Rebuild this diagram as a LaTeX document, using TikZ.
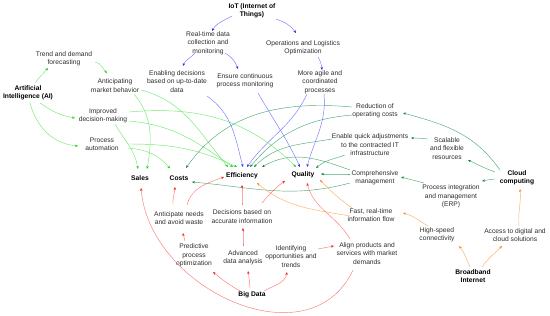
\documentclass[tikz,border=0pt]{standalone}
\usepackage{fontspec}
\setmainfont{Liberation Sans}
\usetikzlibrary{arrows.meta,calc}
\definecolor{txt}{RGB}{45,45,45}
\definecolor{gL}{RGB}{110,235,110}
\definecolor{gA}{RGB}{30,200,30}
\definecolor{bL}{RGB}{120,120,255}
\definecolor{bA}{RGB}{40,40,240}
\definecolor{tL}{RGB}{80,170,120}
\definecolor{tA}{RGB}{20,130,60}
\definecolor{oL}{RGB}{255,175,100}
\definecolor{oA}{RGB}{255,130,30}
\definecolor{rL}{RGB}{255,120,120}
\definecolor{rA}{RGB}{240,30,30}
\tikzset{
  lbl/.style={align=center, inner sep=1pt, text=txt, font=\fontsize{6.7}{8.4}\selectfont},
  keyn/.style={align=center, inner sep=1pt, text=black, font=\fontsize{6.7}{8.4}\selectfont\bfseries},
  conn/.style={line width=0.45pt},
  gc/.style={conn, draw=gL, -{Stealth[length=3pt,width=2.4pt,color=gA]}},
  bc/.style={conn, draw=bL, -{Stealth[length=3pt,width=2.4pt,color=bA]}},
  tc/.style={conn, draw=tL, -{Stealth[length=3pt,width=2.4pt,color=tA]}},
  oc/.style={conn, draw=oL, -{Stealth[length=3pt,width=2.4pt,color=oA]}},
  rc/.style={conn, draw=rL, -{Stealth[length=3pt,width=2.4pt,color=rA]}},
}
\begin{document}
\begin{tikzpicture}[x=1pt,y=1pt]
\path[use as bounding box] (0,0) rectangle (550,-316);
% nodes
\node[keyn] (ai) at (28,-93) {Artificial\\Intelligence (AI)};
\node[lbl] (trend) at (64,-58.5) {Trend and demand\\forecasting};
\node[lbl] (antic) at (115,-85.5) {Anticipating\\market behavior};
\node[lbl] (improved) at (103,-116) {Improved\\decision-making};
\node[lbl] (procauto) at (102,-144) {Process\\automation};
\node[keyn] (iot) at (252,-11) {IoT (Internet of\\Things)};
\node[lbl] (realtime) at (208,-43) {Real-time data\\collection and\\monitoring};
\node[lbl] (ops) at (303,-47.5) {Operations and Logistics\\Optimization};
\node[lbl] (enabling) at (177,-81.5) {Enabling decisions\\based on up-to-date\\data};
\node[lbl] (ensure) at (245,-81) {Ensure continuous\\process monitoring};
\node[lbl] (agile) at (320,-82) {More agile and\\coordinated\\processes};
\node[lbl] (reduction) at (375,-111) {Reduction of\\operating costs};
\node[lbl] (quick) at (370,-145) {Enable quick adjustments\\to the contracted IT\\infrastructure};
\node[lbl] (scalable) at (447,-148.5) {Scalable\\and flexible\\resources};
\node[lbl] (comp) at (375,-178) {Comprehensive\\management};
\node[keyn] (cloud) at (517,-178) {Cloud\\computing};
\node[lbl] (erp) at (451,-196.5) {Process integration\\and management\\(ERP)};
\node[lbl] (fast) at (371,-215) {Fast, real-time\\information flow};
\node[lbl] (align) at (367,-253.5) {Align products and\\services with market\\demands};
\node[lbl] (highspeed) at (437,-235) {High-speed\\connectivity};
\node[lbl] (access) at (515,-235) {Access to digital and\\cloud solutions};
\node[keyn] (broadband) at (473,-276) {Broadband\\Internet};
\node[keyn] (sales) at (140,-178) {Sales};
\node[keyn] (costs) at (179,-178.5) {Costs};
\node[keyn] (eff) at (242,-176) {Efficiency};
\node[keyn] (quality) at (303,-175) {Quality};
\node[lbl] (anticneeds) at (179,-218) {Anticipate needs\\and avoid waste};
\node[lbl] (predictive) at (194,-255.5) {Predictive\\process\\optimization};
\node[lbl] (decisions) at (242,-216.5) {Decisions based on\\accurate information};
\node[lbl] (advanced) at (243,-257.5) {Advanced\\data analysis};
\node[lbl] (identifying) at (291,-256.5) {Identifying\\opportunities and\\trends};
\node[keyn] (bigdata) at (252,-295) {Big Data};
% AI (green)
\draw[gc] ($(ai)+(7,10)$) to[out=55,in=230] ($(trend)+(-16,-9.5)$);
\draw[gc] ($(trend)+(31,-3.5)$) to[out=-10,in=135] ($(antic)+(-8,12.5)$);
\draw[gc] ($(ai)+(12,-10)$) to[out=-35,in=170] ($(improved)+(-28,-2)$);
\draw[gc] ($(ai)+(2,-10)$) to[out=-75,in=175] ($(procauto)+(-24,-2)$);
\draw[gc] ($(antic)+(19,-8.5)$) to[out=-50,in=80] ($(sales)+(7,9)$);
\draw[gc] ($(improved)+(12,-8)$) to[out=-60,in=100] ($(sales)+(-2,9)$);
\draw[gc] ($(antic)+(26,-4.5)$) to[out=-15,in=130] ($(eff)+(-14,9)$);
\draw[gc] ($(improved)+(26,-5)$) to[out=-5,in=145] ($(eff)+(-9,9)$);
\draw[gc] ($(improved)+(26,4)$) to[out=5,in=135] ($(quality)+(-7,8)$);
\draw[gc] ($(procauto)+(26,-4)$) to[out=-5,in=130] ($(costs)+(-9,10)$);
\draw[gc] ($(procauto)+(26,0)$) to[out=0,in=155] ($(eff)+(-5,9)$);
% IoT (blue)
\draw[bc] ($(iot)+(-20,-5)$) to[out=210,in=60] ($(realtime)+(4,12)$);
\draw[bc] ($(iot)+(24,-8)$) to[out=-20,in=125] ($(ops)+(-7,14.5)$);
\draw[bc] ($(realtime)+(-13,-10)$) to[out=230,in=70] ($(enabling)+(6,15.5)$);
\draw[bc] ($(realtime)+(17,-10)$) to[out=-30,in=110] ($(ensure)+(-7,12)$);
\draw[bc] ($(ops)+(15,-9.5)$) to[out=-60,in=95] ($(agile)+(2,12)$);
\draw[bc] ($(enabling)+(30,-14.5)$) to[out=-35,in=105] ($(eff)+(1,9)$);
\draw[bc] ($(ensure)+(13,-12)$) to[out=-60,in=115] ($(quality)+(-3,8)$);
\draw[bc] ($(agile)+(-13,-12)$) to[out=245,in=55] ($(eff)+(5,9)$);
\draw[bc] ($(agile)+(4,-12)$) to[out=-85,in=75] ($(quality)+(4,8)$);
% Cloud (teal)
\draw[tc] ($(cloud)+(-17,8)$) to[out=125,in=-15] ($(reduction)+(28,-2)$);
\draw[tc] ($(cloud)+(-22,6)$) to[out=160,in=-25] ($(scalable)+(21,-11.5)$);
\draw[tc] ($(cloud)+(-22,-1)$) to[out=185,in=10] ($(erp)+(31,15.5)$);
\draw[tc] ($(scalable)+(-19,9.5)$) to[out=175,in=0] ($(quick)+(41,7)$);
\draw[tc] ($(erp)+(-27,13.5)$) to[out=165,in=-15] ($(comp)+(26,1)$);
\draw[tc] ($(reduction)+(-23,4)$) to[out=175,in=55] ($(costs)+(7,10.5)$);
\draw[tc] ($(reduction)+(-23,-4)$) to[out=185,in=50] ($(eff)+(8,9)$);
\draw[tc] ($(quick)+(-38,6)$) to[out=190,in=45] ($(eff)+(12,9)$);
\draw[tc] ($(quick)+(-25,-10)$) to[out=200,in=40] ($(quality)+(13,7)$);
\draw[tc] ($(comp)+(-25,4)$) to[out=180,in=0] ($(quality)+(18,1)$);
\draw[tc] ($(comp)+(-25,8)$) to[out=160,in=30] ($(eff)+(20,9)$);
\draw[tc] ($(comp)+(-25,-5)$) to[out=195,in=-5] ($(costs)+(13,-3.5)$);
% Broadband (orange)
\draw[oc] ($(broadband)+(-3,9)$) to[out=115,in=-50] ($(highspeed)+(22,-11)$);
\draw[oc] ($(broadband)+(9,9)$) to[out=55,in=225] ($(access)+(-13,-11)$);
\draw[oc] ($(access)+(4,9)$) to[out=95,in=-85] ($(cloud)+(3,-11)$);
\draw[oc] ($(highspeed)+(-9,9)$) to[out=150,in=-15] ($(fast)+(32,2)$);
\draw[oc] ($(fast)+(-21,-1)$) to[out=170,in=-40] ($(eff)+(15,-7)$);
\draw[oc] ($(fast)+(-19,7)$) to[out=145,in=-45] ($(quality)+(17,-5)$);
% Big Data (red)
\draw[rc] ($(bigdata)+(-12,4)$) to[out=150,in=-40] ($(predictive)+(19,-16.5)$);
\draw[rc] ($(bigdata)+(-2,7)$) to[out=95,in=-80] ($(advanced)+(5,-13.5)$);
\draw[rc] ($(bigdata)+(12,4)$) to[out=30,in=-100] ($(identifying)+(-4,-15.5)$);
\draw[rc] ($(predictive)+(-9,14.5)$) to[out=100,in=-80] ($(anticneeds)+(4,-15)$);
\draw[rc] ($(anticneeds)+(-6,13)$) to[out=95,in=-95] ($(costs)+(-4,-8.5)$);
\draw[rc] ($(anticneeds)+(8,13)$) to[out=75,in=200] ($(eff)+(-18,-1)$);
\draw[rc] ($(advanced)+(0,11.5)$) to[out=90,in=-90] ($(decisions)+(1,-11.5)$);
\draw[rc] ($(decisions)+(0,11.5)$) to[out=90,in=-90] ($(eff)+(0,-9)$);
\draw[rc] ($(decisions)+(20,13.5)$) to[out=50,in=215] ($(quality)+(-18,-6)$);
\draw[rc] ($(identifying)+(27,7.5)$) to[out=10,in=190] ($(align)+(-33,7.5)$);
\draw[rc] ($(align)+(-17,14.5)$) to[out=120,in=-75] ($(quality)+(4,-8)$);
\draw[rc] ($(align)+(-14,-16.5)$) to[out=-115,in=-85,looseness=1.15] ($(sales)+(1,-10)$);
\end{tikzpicture}
\end{document}
